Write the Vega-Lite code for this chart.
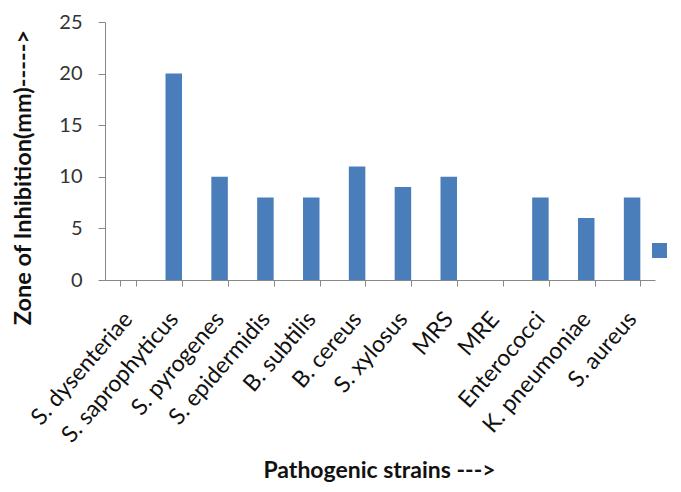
{
  "$schema": "https://vega.github.io/schema/vega-lite/v6.json",
  "width": 550,
  "height": 258,
  "autosize": {"type": "none"},
  "padding": {"left": 105, "top": 22, "right": 26, "bottom": 212},
  "background": "white",
  "config": {
    "view": {"stroke": null},
    "font": "Lato",
    "axis": {"labelFont": "Lato", "titleFont": "Lato"}
  },
  "data": {
    "values": [
      {"strain": "S. dysenteriae", "zone": 0, "series": " "},
      {"strain": "S. saprophyticus", "zone": 20, "series": " "},
      {"strain": "S. pyrogenes", "zone": 10, "series": " "},
      {"strain": "S. epidermidis", "zone": 8, "series": " "},
      {"strain": "B. subtilis", "zone": 8, "series": " "},
      {"strain": "B. cereus", "zone": 11, "series": " "},
      {"strain": "S. xylosus", "zone": 9, "series": " "},
      {"strain": "MRS", "zone": 10, "series": " "},
      {"strain": "MRE", "zone": 0, "series": " "},
      {"strain": "Enterococci", "zone": 8, "series": " "},
      {"strain": "K. pneumoniae", "zone": 6, "series": " "},
      {"strain": "S. aureus", "zone": 8, "series": " "}
    ]
  },
  "mark": {"type": "bar"},
  "encoding": {
    "x": {
      "field": "strain",
      "type": "nominal",
      "sort": null,
      "scale": {"paddingInner": 0.64, "paddingOuter": 0.32},
      "axis": {
        "title": "Pathogenic strains --->",
        "titleFontSize": 23,
        "titleFontWeight": "bold",
        "titleColor": "#111",
        "titleX": 274,
        "titleY": 190,
        "titleBaseline": "middle",
        "labelAngle": -49,
        "labelAlign": "right",
        "labelBaseline": "middle",
        "labelFontSize": 23,
        "labelColor": "#111",
        "labelPadding": 29,
        "tickBand": "extent",
        "tickSize": 6,
        "tickColor": "#888",
        "domainColor": "#888",
        "labelOverlap": false
      }
    },
    "y": {
      "field": "zone",
      "type": "quantitative",
      "scale": {"domain": [0, 25]},
      "axis": {
        "title": "Zone of Inhibition(mm)----->",
        "titleFontSize": 23.5,
        "titleFontWeight": "bold",
        "titleColor": "#111",
        "titleX": -82,
        "titleY": 155,
        "titleBaseline": "middle",
        "values": [0, 5, 10, 15, 20, 25],
        "grid": false,
        "labelFontSize": 20,
        "labelColor": "#333",
        "labelPadding": 16,
        "tickSize": 7,
        "tickColor": "#888",
        "domainColor": "#888"
      }
    },
    "color": {
      "field": "series",
      "type": "nominal",
      "scale": {"range": ["#4a7ebb"]},
      "legend": {
        "orient": "none",
        "legendX": 547,
        "legendY": 221,
        "title": null,
        "symbolType": "square",
        "symbolSize": 225,
        "symbolStrokeWidth": 0,
        "labelFontSize": 1
      }
    }
  }
}
